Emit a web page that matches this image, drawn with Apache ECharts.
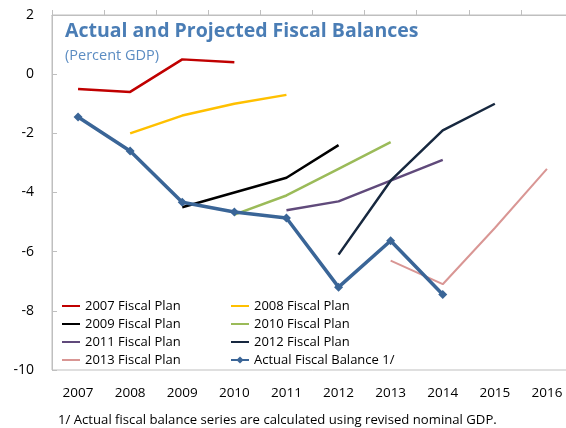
<!DOCTYPE html>
<html>
<head>
<meta charset="utf-8">
<script src="https://cdn.jsdelivr.net/npm/echarts@6/dist/echarts.min.js"></script>
<style>
  html, body { margin: 0; padding: 0; background: #fff; overflow: hidden; width: 566px; height: 428px; }
  /* the plot runs a little past the right edge of the page */
  #chart { width: 620px; height: 428px; }
</style>
</head>
<body>
<div id="chart"></div>
<script>
// Years on the horizontal axis
const years = ['2007', '2008', '2009', '2010', '2011', '2012', '2013', '2014', '2015', '2016'];

// Fiscal balance projections (percent of GDP), each starting in its plan year
const plan2007 = [-0.5, -0.6, 0.5, 0.4];
const plan2008 = [-2.0, -1.4, -1.0, -0.7];
const plan2009 = [-4.5, -4.0, -3.5, -2.4];
const plan2010 = [-4.75, -4.1, -3.2, -2.3];
const plan2011 = [-4.6, -4.3, -3.6, -2.9];
const plan2012 = [-6.1, -3.6, -1.9, -1.0];
const plan2013 = [-6.3, -7.1, -5.2, -3.2];

// Actual fiscal balance, 2007 onwards
const actual = [-1.45, -2.6, -4.33, -4.66, -4.86, -7.2, -5.63, -7.45];

// Y axis ticks
const yTicks = { min: -10, max: 2, step: 2 };

const FONT = 'Open Sans';

// Place a short series on the full year axis, starting at the given year
function align(values, startYear) {
  const out = years.map(() => null);
  const start = years.indexOf(startYear);
  values.forEach((v, i) => { out[start + i] = v; });
  return out;
}

const plans = [
  { name: '2007 Fiscal Plan', start: '2007', values: plan2007, color: '#c00000', width: 2.5 },
  { name: '2008 Fiscal Plan', start: '2008', values: plan2008, color: '#ffc000', width: 2.5 },
  { name: '2009 Fiscal Plan', start: '2009', values: plan2009, color: '#000000', width: 2.5 },
  { name: '2010 Fiscal Plan', start: '2010', values: plan2010, color: '#9bbb59', width: 2.5 },
  { name: '2011 Fiscal Plan', start: '2011', values: plan2011, color: '#604a7b', width: 2.5 },
  { name: '2012 Fiscal Plan', start: '2012', values: plan2012, color: '#17283f', width: 2.5 },
  { name: '2013 Fiscal Plan', start: '2013', values: plan2013, color: '#d99694', width: 2 }
];

const series = plans.map(p => ({
  name: p.name,
  type: 'line',
  data: align(p.values, p.start),
  symbol: 'none',
  connectNulls: false,
  color: p.color,
  lineStyle: { color: p.color, width: p.width },
  animation: false
}));

const ACTUAL_NAME = 'Actual Fiscal Balance 1/';
series.push({
  name: ACTUAL_NAME,
  type: 'line',
  data: align(actual, '2007'),
  symbol: 'diamond',
  symbolSize: 9,
  color: '#3a6597',
  itemStyle: { color: '#3a6597' },
  lineStyle: { color: '#3a6597', width: 3.5 },
  z: 5,
  animation: false
});

const axisGrey = '#bfbfbf';
const legendText = { fontFamily: FONT, fontSize: 13, color: '#000', lineHeight: 14 };
const ROW = 18;
const LEGEND_TOP = 299;

// Plan legends: a flat icon height keeps only the line sample visible
function planLegend(names, left) {
  return {
    data: names, orient: 'vertical', left: left, top: LEGEND_TOP, padding: 0,
    itemWidth: 18, itemHeight: 1, itemGap: ROW - 14,
    textStyle: legendText
  };
}

const chart = echarts.init(document.getElementById('chart'), null, { renderer: 'canvas' });
chart.setOption({
  animation: false,
  backgroundColor: '#fff',
  grid: {
    left: 52, top: 15, width: 521, height: 355,
    show: true, borderColor: axisGrey, borderWidth: 1,
    containLabel: false
  },
  xAxis: [
    {
      type: 'category',
      data: years,
      position: 'bottom',
      boundaryGap: true,
      axisLine: { show: false },
      axisTick: { show: false },
      axisLabel: { margin: 16, fontFamily: FONT, fontSize: 13.5, color: '#000' },
      splitLine: { show: false }
    },
    {
      type: 'category',
      data: years,
      position: 'top',
      boundaryGap: true,
      axisLine: { show: true, onZero: true, lineStyle: { color: axisGrey, width: 1 } },
      axisTick: { show: true, inside: false, length: 5, lineStyle: { color: axisGrey } },
      axisLabel: { show: false },
      splitLine: { show: false }
    }
  ],
  yAxis: {
    type: 'value',
    min: yTicks.min,
    max: yTicks.max,
    interval: yTicks.step,
    axisLine: { show: true, lineStyle: { color: axisGrey, width: 1 } },
    axisTick: { show: true, inside: true, length: 5, lineStyle: { color: axisGrey } },
    axisLabel: { margin: 18, fontFamily: FONT, fontSize: 14, color: '#000' },
    splitLine: { show: false }
  },
  legend: [
    planLegend(['2007 Fiscal Plan', '2009 Fiscal Plan', '2011 Fiscal Plan', '2013 Fiscal Plan'], 61),
    planLegend(['2008 Fiscal Plan', '2010 Fiscal Plan', '2012 Fiscal Plan'], 230),
    {
      data: [ACTUAL_NAME], orient: 'vertical', left: 230, top: LEGEND_TOP + 3 * ROW, padding: 0,
      itemWidth: 18, itemHeight: 9,
      textStyle: legendText
    }
  ],
  graphic: [
    {
      type: 'text', left: 65, top: 21,
      style: { text: 'Actual and Projected Fiscal Balances', fontFamily: FONT, fontWeight: 'bold', fontSize: 19.5, fill: '#4a7db5' }
    },
    {
      type: 'text', left: 65, top: 48,
      style: { text: '(Percent GDP)', fontFamily: FONT, fontSize: 14.5, fill: '#5b8cc2' }
    },
    {
      type: 'text', left: 58, top: 414,
      style: { text: '1/ Actual fiscal balance series are calculated using revised nominal GDP.', fontFamily: FONT, fontSize: 13.15, fill: '#000' }
    }
  ],
  series: series
});
</script>
</body>
</html>
